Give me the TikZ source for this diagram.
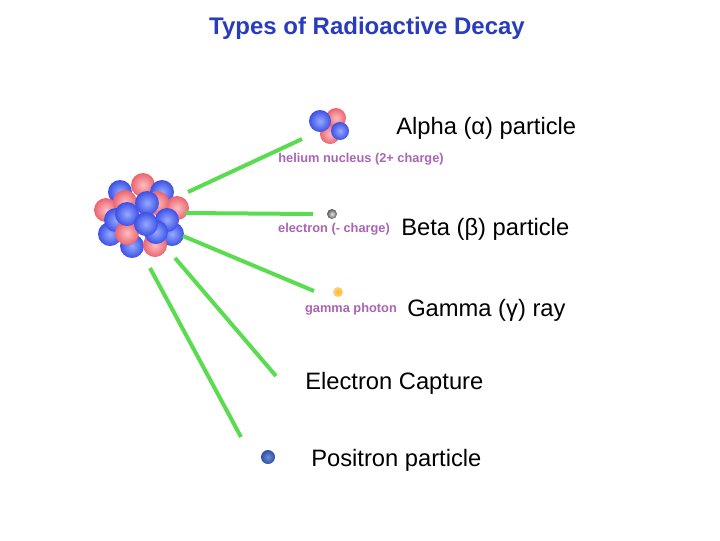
\documentclass[tikz,border=0pt]{standalone}
\usepackage{fontspec}
\setmainfont{Liberation Sans}
\begin{document}
\begin{tikzpicture}[x=0.75pt,y=-0.75pt,
 big/.style={font=\fontsize{17.8}{21}\selectfont, anchor=west, inner sep=0},
 small/.style={font=\bfseries\fontsize{9.6}{11}\selectfont, text={rgb,255:red,170;green,100;blue,180}, inner sep=0},
 rb/.style={inner color={rgb,255:red,255;green,190;blue,195}, outer color={rgb,255:red,235;green,100;blue,110}},
 bb/.style={inner color={rgb,255:red,150;green,170;blue,255}, outer color={rgb,255:red,60;green,80;blue,230}}]
\useasboundingbox (0,0) rectangle (720,540);
\node[font=\bfseries\fontsize{18}{21}\selectfont, text={rgb,255:red,40;green,60;blue,190}] (title) at (367,28) {Types of Radioactive Decay};
% nucleus
\foreach \x/\y/\s in {143/185/rb,120/192/bb,162/192/bb,106/210/rb,177/208/rb,110/234/bb,172/234/bb,132/246/bb,155/245/rb,125/202/rb,157/203/rb,116/220/bb,167/220/bb,127/233/rb,156/232/bb,142/214/rb,127/214/bb,147/203/bb,146/224/bb}
 \shade[\s] (\x,\y) circle (12);
\coordinate (nuc) at (141,213);
% rays
\coordinate (a1) at (188,192); \coordinate (a2) at (302,139);
\coordinate (b1) at (185,213); \coordinate (b2) at (313,214);
\coordinate (g1) at (183,236); \coordinate (g2) at (314,291);
\coordinate (e1) at (175,258); \coordinate (e2) at (276,376);
\coordinate (p1) at (150,268); \coordinate (p2) at (241,437);
\foreach \s/\e in {a1/a2,b1/b2,g1/g2,e1/e2,p1/p2} \draw[line width=3pt, color={rgb,255:red,90;green,220;blue,80}] (\s) -- (\e);
% alpha particle
\shade[rb] (336,118) circle (10);
\shade[rb] (330,134) circle (10);
\shade[bb] (340,131) circle (9);
\shade[bb] (320,121) circle (11);
\shade[inner color=gray!20, outer color=gray!70!black] (332,214) circle (5);
\shade[inner color=orange!50!yellow, outer color=orange!40] (338,292) circle (5);
\shade[inner color={rgb,255:red,110;green,140;blue,220}, outer color={rgb,255:red,50;green,80;blue,160}] (268,457) circle (7);
\node[small] (hl) at (361,159) {helium nucleus (2+ charge)};
\node[small] (el) at (334,229) {electron (- charge)};
\node[small] (gl) at (351,309) {gamma photon};
\node[big] (al) at (396,128) {Alpha (α) particle};
\node[big] (bl) at (401,229) {Beta (β) particle};
\node[big] (gr) at (407,310) {Gamma (γ) ray};
\node[big] (ec) at (305,383) {Electron Capture};
\node[big] (pp) at (311,460) {Positron particle};
\end{tikzpicture}
\end{document}
